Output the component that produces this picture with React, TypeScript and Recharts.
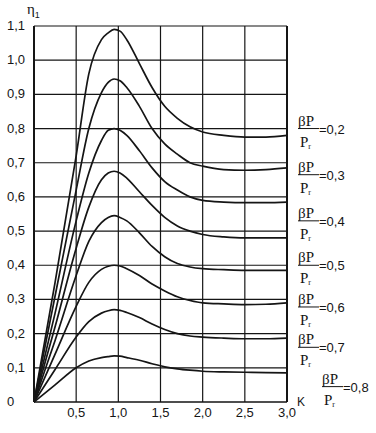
import React from 'react';
import { LineChart, Line, XAxis, YAxis, CartesianGrid, ReferenceDot, ReferenceLine } from 'recharts';

// relative frequency K
const kValues = [0, 0.25, 0.5, 0.65, 0.8, 0.88, 0.95, 1.02, 1.1, 1.25, 1.4, 1.55, 1.7, 1.85, 2.0, 2.25, 2.5, 2.75, 3.0];

// eta_1 curves, top to bottom
const curve1 = [0, 0.35, 0.72, 0.96, 1.06, 1.08, 1.09, 1.085, 1.06, 0.99, 0.92, 0.865, 0.83, 0.805, 0.79, 0.78, 0.775, 0.775, 0.78];
const curve2 = [0, 0.31, 0.62, 0.8, 0.905, 0.935, 0.945, 0.94, 0.92, 0.865, 0.8, 0.755, 0.725, 0.7, 0.69, 0.68, 0.678, 0.68, 0.685];
const curve3 = [0, 0.26, 0.53, 0.67, 0.765, 0.795, 0.8, 0.795, 0.78, 0.735, 0.685, 0.645, 0.62, 0.6, 0.59, 0.585, 0.583, 0.583, 0.585];
const curve4 = [0, 0.22, 0.45, 0.57, 0.65, 0.67, 0.675, 0.67, 0.655, 0.615, 0.575, 0.54, 0.515, 0.5, 0.49, 0.483, 0.48, 0.48, 0.48];
const curve5 = [0, 0.18, 0.37, 0.47, 0.525, 0.54, 0.545, 0.54, 0.53, 0.495, 0.455, 0.425, 0.405, 0.395, 0.39, 0.387, 0.385, 0.385, 0.385];
const curve6 = [0, 0.14, 0.28, 0.35, 0.388, 0.397, 0.4, 0.398, 0.39, 0.37, 0.345, 0.325, 0.308, 0.297, 0.29, 0.287, 0.285, 0.286, 0.29];
const curve7 = [0, 0.095, 0.19, 0.235, 0.26, 0.267, 0.27, 0.268, 0.262, 0.247, 0.228, 0.212, 0.2, 0.193, 0.19, 0.187, 0.185, 0.185, 0.187];
const curve8 = [0, 0.05, 0.1, 0.12, 0.13, 0.133, 0.135, 0.134, 0.13, 0.122, 0.112, 0.103, 0.097, 0.093, 0.09, 0.088, 0.087, 0.086, 0.085];

const xTicks = [0.5, 1, 1.5, 2, 2.5, 3];
const yTicks = [0, 0.1, 0.2, 0.3, 0.4, 0.5, 0.6, 0.7, 0.8, 0.9, 1.0, 1.1];

// βP/Pr labels on the right and the level they sit at
const ratioLabels = ['0,2', '0,3', '0,4', '0,5', '0,6', '0,7', '0,8'];
const ratioLevels = [0.8, 0.665, 0.53, 0.4, 0.278, 0.16, 0.045];

const curves = [curve1, curve2, curve3, curve4, curve5, curve6, curve7, curve8];

const chartData = kValues.map((k, i) => {
  const row: Record<string, number> = { k };
  curves.forEach((c, j) => {
    row['c' + j] = c[i];
  });
  return row;
});

const INK = '#151515';
const SANS = '"Liberation Sans", Arial, sans-serif';
const SERIF = '"Liberation Serif", "Times New Roman", serif';

const fmt = (v: number) => (v === 0 ? '0' : v.toFixed(1).replace('.', ','));

const YTick = (props: any) => {
  const { x, y, payload } = props;
  return (
    <text x={x} y={y} dy={4} textAnchor="start" fontSize={13} fontFamily={SANS} fill={INK}>
      {fmt(payload.value)}
    </text>
  );
};

const RatioLabel = ({ cx, cy, text, shift }: { cx: number; cy: number; text: string; shift: number }) => {
  const x0 = cx + shift;
  return (
    <g>
      <text x={x0} y={cy - 3} fontSize={15} fontFamily={SERIF} fill={INK}>βP</text>
      <line x1={x0} x2={x0 + 21} y1={cy} y2={cy} stroke={INK} strokeWidth={1} />
      <text x={x0 + 2} y={cy + 18} fontSize={15} fontFamily={SERIF} fill={INK}>
        P<tspan fontSize={8} dy={2}>r</tspan>
      </text>
      <text x={x0 + 21} y={cy + 5} fontSize={13} fontFamily={SANS} fill={INK}>={text}</text>
    </g>
  );
};

export default function App() {
  return (
    <div style={{ position: 'absolute', left: 0, top: 0, width: 376, height: 433, background: '#fff' }}>
      <LineChart
        width={376}
        height={433}
        data={chartData}
        margin={{ top: 26, right: 89, left: 0, bottom: 0 }}
      >
        <CartesianGrid stroke={INK} strokeWidth={1.2} horizontalValues={yTicks} verticalValues={xTicks} />
        <XAxis
          dataKey="k"
          type="number"
          domain={[0, 3]}
          ticks={xTicks}
          tickFormatter={fmt}
          height={31}
          tickSize={0}
          tickMargin={6}
          axisLine={{ stroke: INK, strokeWidth: 1.2 }}
          tick={{ fontSize: 13, fontFamily: SANS, fill: INK }}
        />
        <YAxis
          type="number"
          domain={[0, 1.1]}
          ticks={yTicks}
          width={34}
          tickSize={0}
          tickMargin={27}
          axisLine={{ stroke: INK, strokeWidth: 2 }}
          tick={<YTick />}
        />
        <ReferenceLine x={3} stroke={INK} strokeWidth={2} />
        {curves.map((_, j) => (
          <Line
            key={j}
            type="monotone"
            dataKey={'c' + j}
            stroke={INK}
            strokeWidth={1.7}
            dot={false}
            isAnimationActive={false}
          />
        ))}
        {ratioLabels.map((t, i) => (
          <ReferenceDot
            key={t}
            x={3}
            y={ratioLevels[i]}
            r={0}
            shape={(p: any) => (
              <RatioLabel cx={p.cx} cy={p.cy} text={t} shift={i === ratioLabels.length - 1 ? 35 : 11} />
            )}
          />
        ))}
      </LineChart>
      <div
        style={{
          position: 'absolute',
          left: 27,
          top: 2,
          fontFamily: SERIF,
          fontSize: 15,
          color: INK,
          lineHeight: 1,
        }}
      >
        η<sub style={{ fontSize: 9, fontFamily: SANS }}>1</sub>
      </div>
      <div
        style={{
          position: 'absolute',
          left: 297,
          top: 396,
          fontFamily: SANS,
          fontSize: 12,
          color: INK,
          lineHeight: 1,
        }}
      >
        K
      </div>
    </div>
  );
}
